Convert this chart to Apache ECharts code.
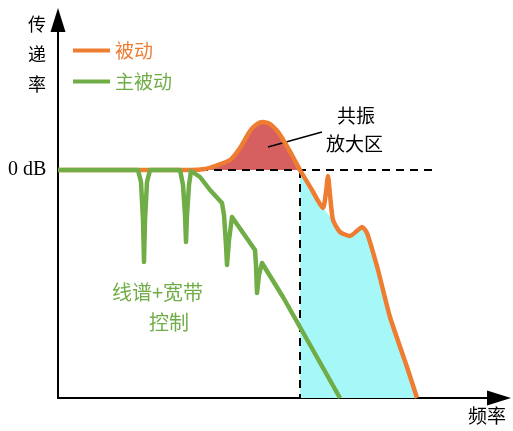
<!DOCTYPE html>
<html><head><meta charset="utf-8">
<script src="https://cdn.jsdelivr.net/npm/echarts@6/dist/echarts.min.js"></script>
<style>html,body{margin:0;padding:0;background:#fff}#c{width:513px;height:431px}</style>
</head><body><div id="c"></div>
<script>
// Relative frequency (x) and transmissibility relative to 0 dB (y)
const passiveFreq = [0,132,147,157,172,182,192,199,205,212,220,227,235,242,254,265,268,270,272,275,282,292,300,304,309,320,332,349,359];
const passiveGain = [0,0,1,4,10,22,39,46,48,46,38,27,13,0,-20,-38,-22,-6,-25,-50,-62,-66,-60,-57,-63,-100,-147,-197,-228];
const resonanceFreq = [132,147,157,172,182,192,199,205,212,220,227,235,242];
const resonanceGain = [0,1,4,10,22,39,46,48,46,38,27,13,0];
const isolationFreq = [242,254,265,275,282,292,300,304,309,320,332,349,359];
const isolationGain = [0,-20,-38,-50,-62,-66,-60,-57,-63,-100,-147,-197,-228];
const activeFreq = [0,80,83,85,86,87,89,92,122,125,127,128,129,131,133,142,152,164,166,168,169,171,174,197,198,199,201,204,225,282];
const activeGain = [0,0,-12,-50,-92,-50,-12,0,0,-15,-45,-72,-45,-15,-1,-7,-20,-33,-45,-75,-95,-70,-47,-80,-95,-123,-105,-93,-127,-228];
const zeroLineFreq = [142,379];
const cutoffFreq = 242;
const pointerFreq = [210,264];
const pointerGain = [23,38];
const seriesNames = ['被动','主被动'];

const zip = (a,b)=>a.map((v,i)=>[v,b[i]]);
const ORANGE='#ee7d31', GREEN='#70ad47';
const cjk = '"Noto Sans CJK SC", sans-serif';

const chart = echarts.init(document.getElementById('c'));
chart.setOption({
  animation:false,
  grid:{left:58,right:14,top:20,bottom:33},
  xAxis:{type:'value',min:0,max:441,
    axisLine:{onZero:false,lineStyle:{color:'#000',width:2},symbol:['none','triangle'],symbolSize:[15,24]},
    axisTick:{show:false},axisLabel:{show:false},splitLine:{show:false}},
  yAxis:{type:'value',min:-228,max:150,
    axisLine:{onZero:false,lineStyle:{color:'#000',width:2},symbol:['none','triangle'],symbolSize:[15,24]},
    axisTick:{show:false},axisLabel:{show:false},splitLine:{show:false}},
  legend:{orient:'vertical',left:68,top:36,itemWidth:37,itemHeight:4,itemGap:12,icon:'rect',
    textStyle:{fontFamily:cjk,fontSize:19},
    data:[{name:seriesNames[0],textStyle:{color:ORANGE}},{name:seriesNames[1],textStyle:{color:GREEN}}]},
  series:[
    {type:'line',name:'resonance',data:zip(resonanceFreq,resonanceGain),smooth:0.2,symbol:'none',
     lineStyle:{width:0},areaStyle:{color:'#d65f5f',opacity:1},z:1,silent:true},
    {type:'line',name:'isolation',data:zip(isolationFreq,isolationGain),smooth:0.2,symbol:'none',
     lineStyle:{width:0},areaStyle:{color:'#a6f7f7',opacity:1,origin:'start'},z:1,silent:true},
    {type:'line',name:'zero',data:zeroLineFreq.map(f=>[f,0]),symbol:'none',
     lineStyle:{color:'#000',width:2,type:[8,6]},z:2,silent:true},
    {type:'line',name:'cutoff',data:[[cutoffFreq,0],[cutoffFreq,-228]],symbol:'none',
     lineStyle:{color:'#000',width:2,type:[8,6]},z:2,silent:true},
    {type:'line',name:'pointer',data:zip(pointerFreq,pointerGain),symbol:'none',
     lineStyle:{color:'#000',width:1.5},z:2,silent:true},
    {type:'line',name:seriesNames[0],data:zip(passiveFreq,passiveGain),smooth:0.2,symbol:'none',
     color:ORANGE,lineStyle:{color:ORANGE,width:4.5},z:3},
    {type:'line',name:seriesNames[1],data:zip(activeFreq,activeGain),symbol:'none',
     color:GREEN,lineStyle:{color:GREEN,width:4.5,join:'round'},z:4}
  ],
  graphic:[
    {type:'text',left:28,top:9,style:{text:'传\n递\n率',font:'18px '+cjk,lineHeight:30,fill:'#000'}},
    {type:'text',left:8,top:160,style:{text:'0 dB',font:'20px "Liberation Serif", serif',fill:'#000'}},
    {type:'text',left:337,top:106,style:{text:'共振',font:'19px '+cjk,fill:'#000'}},
    {type:'text',left:326,top:134,style:{text:'放大区',font:'19px '+cjk,fill:'#000'}},
    {type:'text',left:112,top:282,style:{text:'线谱+宽带',font:'20px '+cjk,fill:GREEN}},
    {type:'text',left:149,top:312,style:{text:'控制',font:'20px '+cjk,fill:GREEN}},
    {type:'text',left:313,top:305,style:{text:'隔振区',font:'20px '+cjk,fill:'#000'}},
    {type:'text',left:468,top:406,style:{text:'频率',font:'19px '+cjk,fill:'#000'}}
  ]
});
</script></body></html>
